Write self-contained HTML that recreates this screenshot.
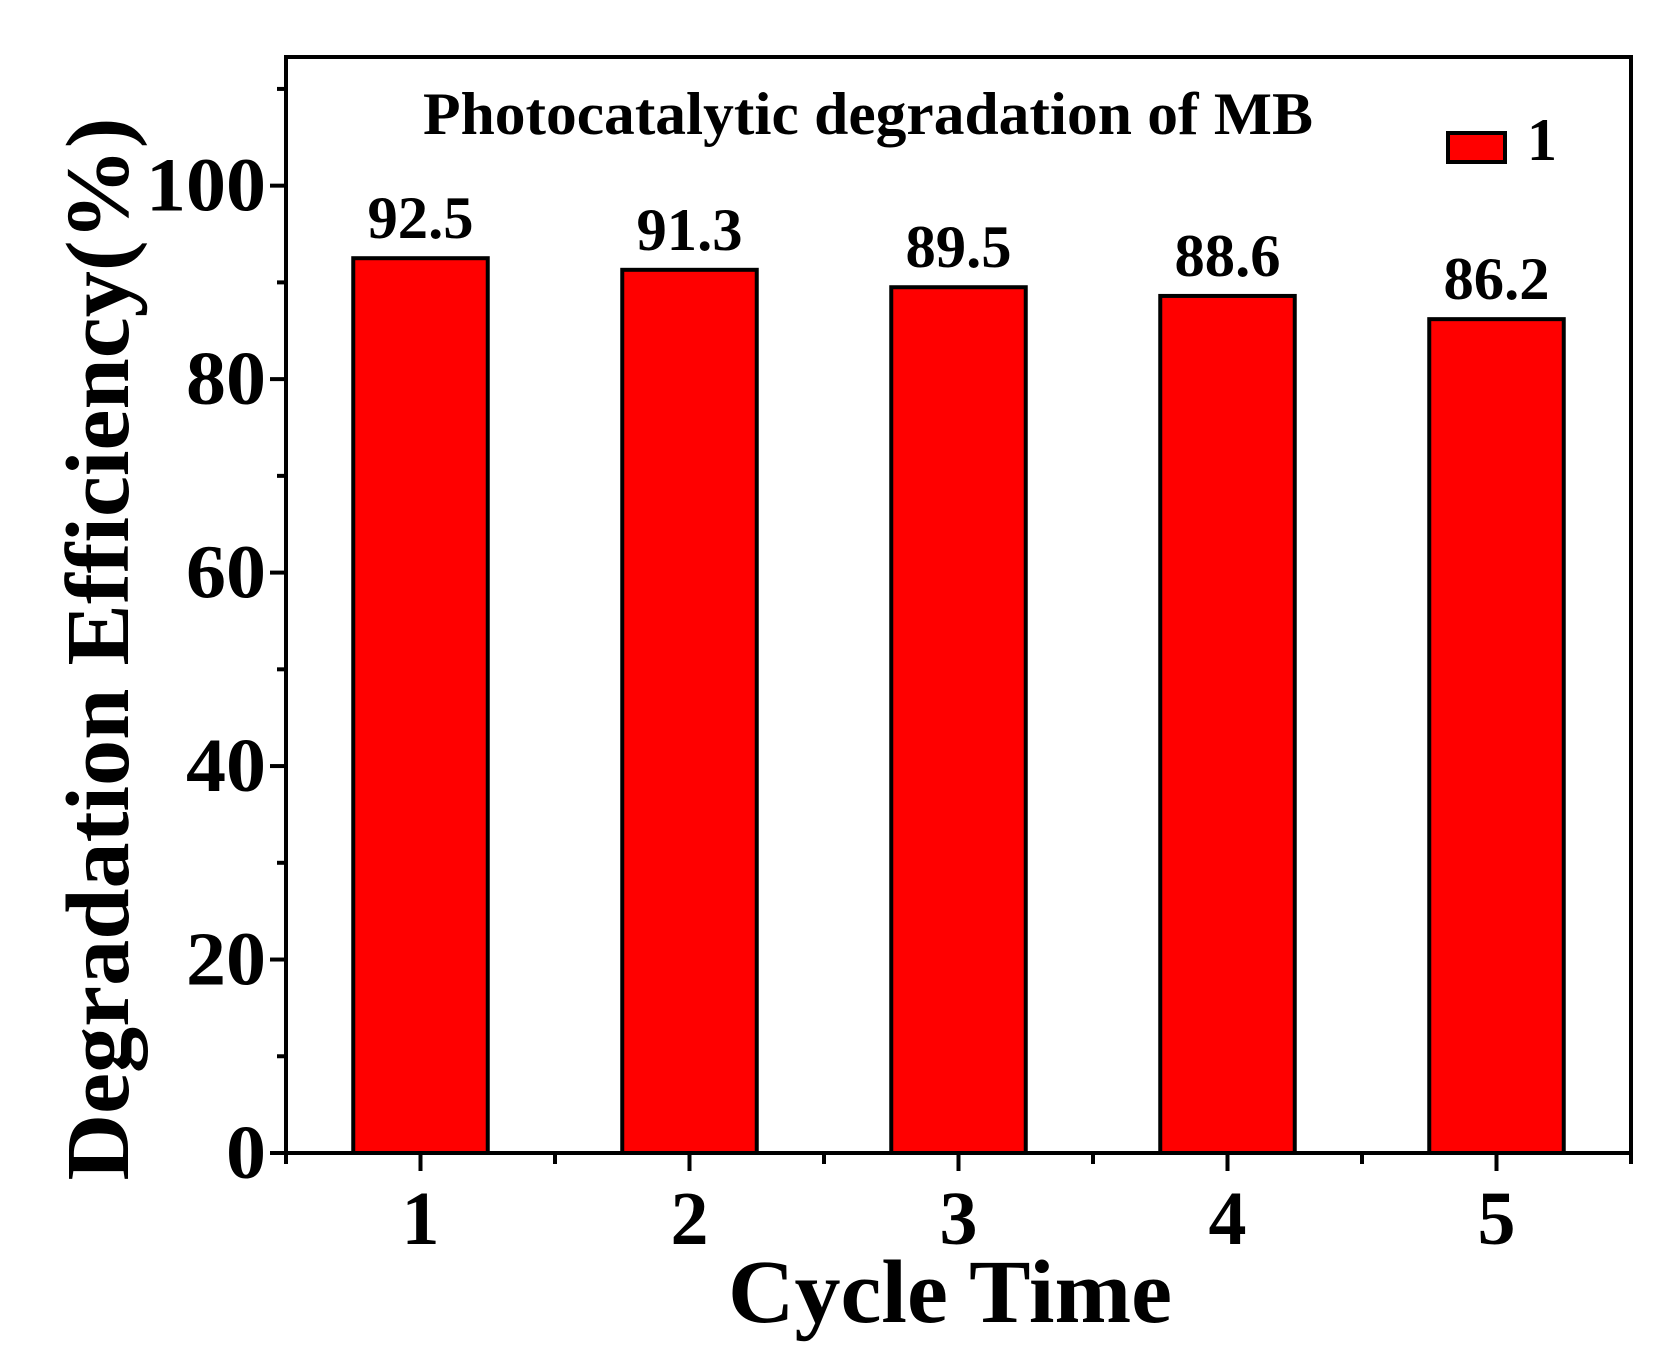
<!DOCTYPE html>
<html><head><meta charset="utf-8"><style>
html,body{margin:0;padding:0;background:#fff;}
svg{display:block;font-family:"Liberation Serif",serif;font-weight:bold;}
</style></head><body>
<svg id="chart" width="1666" height="1357" viewBox="0 0 1666 1357"></svg>
<script>
const categories = [1, 2, 3, 4, 5];
const values = [92.5, 91.3, 89.5, 88.6, 86.2];
const valueLabels = ["92.5", "91.3", "89.5", "88.6", "86.2"];
const yTicks = [0, 20, 40, 60, 80, 100];
const yMinorTicks = [10, 30, 50, 70, 90, 110];

const L = 286, R = 1631, T = 57, B = 1153;
const xMin = 0.5, xMax = 5.5, yMin = 0, yMax = 113.3;
function xs(v){ return L + (v - xMin) / (xMax - xMin) * (R - L); }
function ys(v){ return B - (v - yMin) / (yMax - yMin) * (B - T); }
const NS = "http://www.w3.org/2000/svg";
const svg = document.getElementById('chart');
function mk(tag, attrs, parent){ const e = document.createElementNS(NS, tag); for (const k in attrs) e.setAttribute(k, attrs[k]); (parent||svg).appendChild(e); return e; }

// bars
const bw = xs(1.5) - xs(1);
categories.forEach((c, i) => {
  const r = mk('rect', {x: xs(c) - bw/2, y: ys(values[i]), width: bw, height: ys(0) - ys(values[i]), fill: '#ff0000', stroke: '#000', 'stroke-width': 4});
  
  
  const t = mk('text', {x: xs(c), y: ys(values[i]) - 20, 'font-size': 60, 'text-anchor': 'middle', textLength: 106, lengthAdjust: 'spacingAndGlyphs'});
  t.textContent = valueLabels[i];
  
  
});

// frame
const fr = mk('rect', {x: L, y: T, width: R - L, height: B - T, fill: 'none', stroke: '#000', 'stroke-width': 4});



// y ticks
yTicks.forEach(v => {
  mk('line', {x1: L - 16, x2: L, y1: ys(v), y2: ys(v), stroke: '#000', 'stroke-width': 4});
  const s = String(v);
  const t = mk('text', {x: 266, y: ys(v) + 25, 'font-size': 76, 'text-anchor': 'end', textLength: 40 * s.length, lengthAdjust: 'spacingAndGlyphs'});
  t.textContent = s;
  
  
});
yMinorTicks.forEach(v => {
  mk('line', {x1: L - 9, x2: L, y1: ys(v), y2: ys(v), stroke: '#000', 'stroke-width': 4});
});
// x ticks
categories.forEach(c => {
  mk('line', {x1: xs(c), x2: xs(c), y1: B, y2: B + 18, stroke: '#000', 'stroke-width': 4});
  const t = mk('text', {x: xs(c), y: 1244, 'font-size': 76, 'text-anchor': 'middle'});
  t.textContent = c;
  
  
});
[0.5,1.5,2.5,3.5,4.5,5.5].forEach(v => {
  mk('line', {x1: xs(v), x2: xs(v), y1: B, y2: B + 11, stroke: '#000', 'stroke-width': 4});
});

// titles
let t = mk('text', {x: 950, y: 1322, 'font-size': 90, 'text-anchor': 'middle', textLength: 444, lengthAdjust: 'spacingAndGlyphs'});
t.textContent = 'Cycle Time';



t = mk('text', {x: 0, y: 0, 'font-size': 90, 'text-anchor': 'middle', textLength: 1063, lengthAdjust: 'spacingAndGlyphs', transform: 'translate(128,649) rotate(-90)'});
t.textContent = 'Degradation Efficiency(%)';



t = mk('text', {x: 868, y: 134, 'font-size': 60, 'text-anchor': 'middle', textLength: 890, lengthAdjust: 'spacingAndGlyphs'});
t.textContent = 'Photocatalytic degradation of MB';



// legend
const lr = mk('rect', {x: 1448, y: 133, width: 57, height: 29, fill: '#ff0000', stroke: '#000', 'stroke-width': 4});


t = mk('text', {x: 1527, y: 160, 'font-size': 60});
t.textContent = '1';


</script>
</body></html>
